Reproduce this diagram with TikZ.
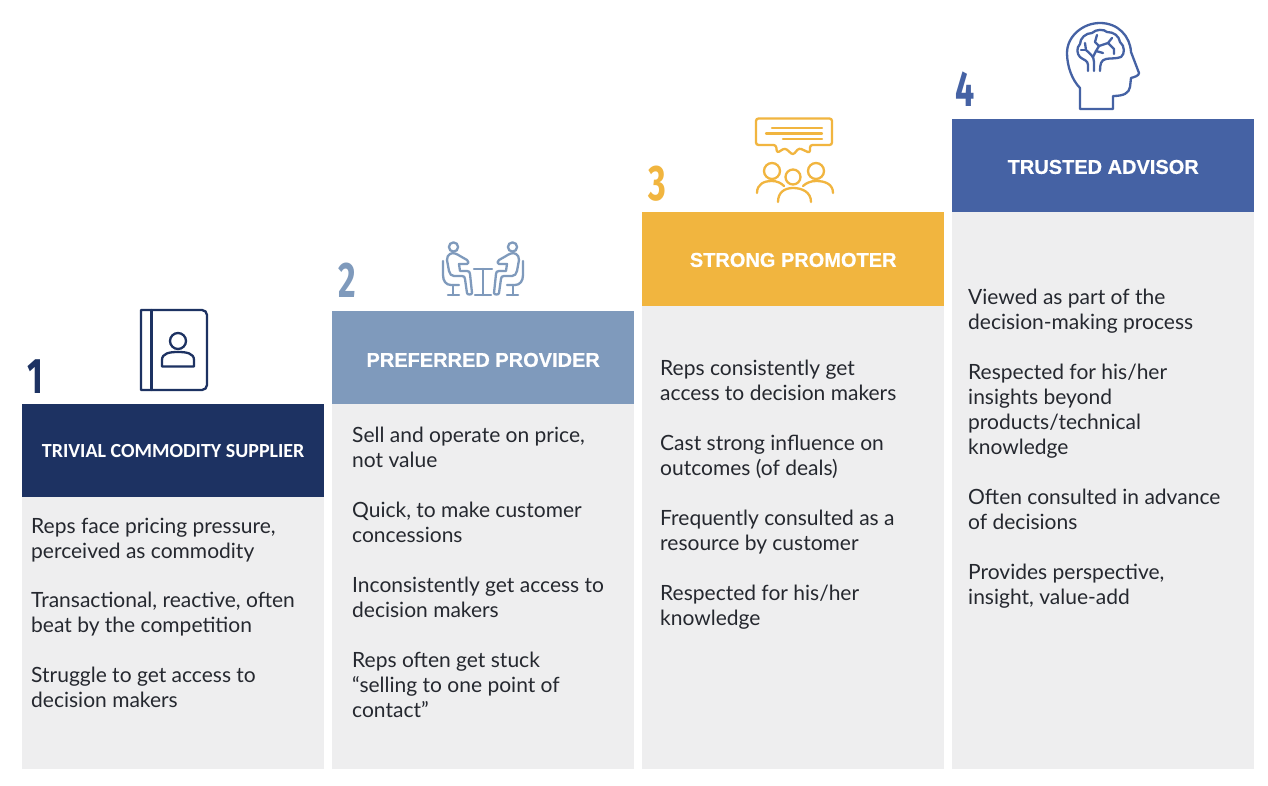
\documentclass[tikz,border=0pt]{standalone}
\usepackage{fontspec}
\setmainfont{Lato}
\newfontfamily\headfont[BoldFeatures={FakeBold=0.6}]{Liberation Sans}
\newfontfamily\firstheadfont{Carlito}
\newfontfamily\numfont{Fira Sans}
\definecolor{navy}{HTML}{1D3262}
\definecolor{steel}{HTML}{7F9ABC}
\definecolor{amber}{HTML}{F1B53F}
\definecolor{royal}{HTML}{4562A4}
\definecolor{panel}{HTML}{EEEEEF}
\definecolor{ink}{HTML}{25282F}
\newcommand{\seatedfigure}{%
  \draw (453.5,247) circle[radius=4.6];
  \draw (450,254) .. controls (453,252) and (457,254) .. (460,256) -- (467,260) .. controls (469,261) and (469,264) .. (467,264) -- (459,264) -- (460,271) -- (467,271) .. controls (469,271) and (470,272) .. (470,274) -- (472,293) .. controls (472,295) and (467,295) .. (467,293) -- (465,279) .. controls (465,277) and (464,276) .. (462,276) -- (454,276) .. controls (451,276) and (450,274) .. (449,271) -- (447,260) .. controls (447,257) and (448,255) .. (450,254) -- cycle;
  \draw (443,261) -- (443,275) .. controls (443,281) and (446,285) .. (451,285) -- (459,285);
  \draw (453,285) -- (453,295);
  \draw (448,295) -- (459,295);
}
\tikzset{
  x=1pt,y=-1pt,
  panelbox/.style={fill=panel,draw=none},
  headbox/.style={draw=none,minimum width=302pt,minimum height=93pt,inner sep=0pt,anchor=north west,
    text=white,font=\headfont\fontsize{20}{22}\selectfont\bfseries},
  para/.style={anchor=north west,inner sep=0pt,align=left,text=ink,
    font=\fontsize{21}{25}\selectfont},
  numeral/.style={anchor=base,inner sep=0pt,font=\numfont\fontsize{50}{50}\selectfont\bfseries},
  icon/.style={line width=2.3pt,line join=round,line cap=round},
}
\begin{document}
\begin{tikzpicture}
\useasboundingbox (0,0) rectangle (1268,786);
\fill[white] (0,0) rectangle (1268,786);
% panels
\fill[panelbox] (22,404) rectangle (324,769);
\fill[panelbox] (332,311) rectangle (634,769);
\fill[panelbox] (642,212) rectangle (944,769);
\fill[panelbox] (952,119) rectangle (1254,769);
% headers
\node[headbox,fill=navy,font=\firstheadfont\fontsize{20}{22}\selectfont\bfseries] (h1) at (22,404) {TRIVIAL COMMODITY SUPPLIER};
\node[headbox,fill=steel,text height=18.3pt,text depth=0pt] (h2) at (332,311) {PREFERRED PROVIDER};
\node[headbox,fill=amber,minimum height=94pt,text height=15.3pt,text depth=0pt] (h3) at (642,212) {STRONG PROMOTER};
\node[headbox,fill=royal,text height=16.3pt,text depth=0pt] (h4) at (952,119) {TRUSTED ADVISOR};
% numerals
\node[numeral,text=navy] (n1) at (35,393) {\scalebox{0.68}[1]{1}};
\node[numeral,text=steel] (n2) at (347,298) {\scalebox{0.68}[1]{2}};
\node[numeral,text=amber] (n3) at (657,201) {\scalebox{0.68}[1]{3}};
\node[numeral,text=royal] (n4) at (965,107) {\scalebox{0.68}[1]{4}};
% column 1
\node[para] (a1) at (31,518) {Reps face pricing pressure,\\perceived as commodity};
\node[para] (a2) at (31,592) {Transactional, reactive, often\\beat by the competition};
\node[para] (a3) at (31,667) {Struggle to get access to\\decision makers};
% column 2
\node[para] (b1) at (352,427) {Sell and operate on price,\\not value};
\node[para] (b2) at (352,502) {Quick, to make customer\\concessions};
\node[para] (b3) at (352,577) {Inconsistently get access to\\decision makers};
\node[para] (b4) at (352,652) {Reps often get stuck\\“selling to one point of\\contact”};
% column 3
\node[para] (c1) at (660,360) {Reps consistently get\\access to decision makers};
\node[para] (c2) at (660,435) {Cast strong influence on\\outcomes (of deals)};
\node[para] (c3) at (660,510) {Frequently consulted as a\\resource by customer};
\node[para] (c4) at (660,585) {Respected for his/her\\knowledge};
% column 4
\node[para] (d1) at (968,289) {Viewed as part of the\\decision-making process};
\node[para] (d2) at (968,364) {Respected for his/her\\insights beyond\\products/technical\\knowledge};
\node[para] (d3) at (968,489) {Often consulted in advance\\of decisions};
\node[para] (d4) at (968,564) {Provides perspective,\\insight, value-add};
% icon 1: contact book
\begin{scope}[icon,draw=navy]
\draw (141,310) -- (202,310) arc[start angle=-90,end angle=0,radius=5] -- (207,385) arc[start angle=0,end angle=90,radius=5] -- (141,390) -- cycle;
\draw (151.5,310) -- (151.5,390);
\draw (178,341) circle[radius=8];
\draw (162,366.5) -- (162,360) .. controls (162,353) and (170,352) .. (178,352) .. controls (186,352) and (194,353) .. (194,360) -- (194,366.5) -- cycle;
\end{scope}
% icon 2: two people at table
\begin{scope}[icon,draw=steel]
\draw (474,269) -- (492,269);
\draw (483,269) -- (483,295);
\draw (475,295) -- (491,295);
\seatedfigure
\begin{scope}[shift={(966,0)},xscale=-1]
\seatedfigure
\end{scope}
\end{scope}
% icon 3: speech bubble and group
\begin{scope}[icon,draw=amber]
\draw[rounded corners=2.5pt] (756,118.5) -- (832,118.5) -- (832,145) -- (810,145) -- (810,153) -- (799,148) -- (793,155) -- (785,148) -- (777,153) -- (776,145) -- (756,145) -- cycle;
\draw (772,128) -- (822,128);
\draw (766,133.5) -- (822,133.5);
\draw (783,139) -- (822,139);
\draw (772,171) circle[radius=8];
\draw (816,171) circle[radius=8];
\draw (793,177) circle[radius=7.5];
\draw (757,193) .. controls (757,184) and (764,181) .. (772,181) .. controls (777,181) and (781,183) .. (784,186);
\draw (833,193) .. controls (833,184) and (825,181) .. (816,181) .. controls (811,181) and (806,183) .. (803,186);
\draw (778,202) .. controls (778,192) and (785,188) .. (793,188) .. controls (802,188) and (811,192) .. (811,202);
\end{scope}
% icon 4: head with brain
\begin{scope}[icon,draw=royal]
\draw (1080,109) -- (1080,88) .. controls (1072,80) and (1067,66) .. (1067,53) .. controls (1067,36) and (1083,23) .. (1100,23) .. controls (1118,23) and (1130,36) .. (1131,52) -- (1139,73) .. controls (1139,76) and (1134,77) .. (1131,78) -- (1130,87) .. controls (1129,93) and (1124,96) .. (1113,96) -- (1113,109) -- cycle;
% brain outline and stalks
\draw (1088,71) -- (1088,65) .. controls (1088,60) and (1083,60) .. (1080,57) .. controls (1077,54) and (1076,48) .. (1080,44) .. controls (1080,38) and (1086,33) .. (1092,33) .. controls (1096,29) and (1104,29) .. (1107,32) .. controls (1114,32) and (1119,36) .. (1120,42) .. controls (1125,46) and (1125,54) .. (1121,57) .. controls (1116,59) and (1110,58) .. (1106,59) .. controls (1101,60) and (1100,64) .. (1100,71);
\draw (1094,71) -- (1094,62) .. controls (1094,56) and (1090,54) .. (1086,50) -- (1085,43);
\draw (1093,57) -- (1096,51) -- (1099,46) -- (1095,42) -- (1097,35);
\draw (1099,46) -- (1108,43) -- (1112,38);
\draw (1108,43) -- (1114,49) -- (1114,54);
\draw (1086,50) -- (1081,50);
\draw (1096,51) -- (1103,53);
\end{scope}
\end{tikzpicture}
\end{document}
